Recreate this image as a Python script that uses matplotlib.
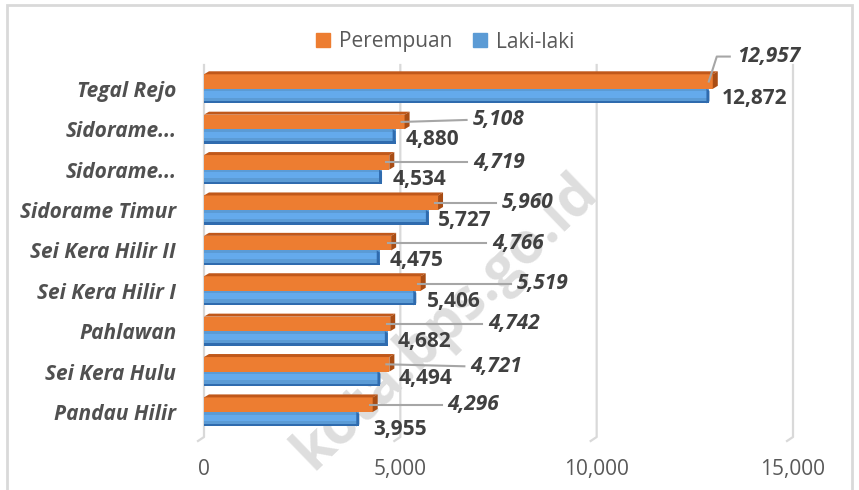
import numpy as np
import matplotlib.pyplot as plt
from matplotlib.patches import Polygon, Rectangle

plt.rcParams['font.family'] = ['Open Sans', 'DejaVu Sans']

# data (bottom to top)
kelurahan = ['Pandau Hilir', 'Sei Kera Hulu', 'Pahlawan', 'Sei Kera Hilir I',
             'Sei Kera Hilir II', 'Sidorame Timur', 'Sidorame...', 'Sidorame...',
             'Tegal Rejo']
perempuan = [4296, 4721, 4742, 5519, 4766, 5960, 4719, 5108, 12957]
laki_laki = [3955, 4494, 4682, 5406, 4475, 5727, 4534, 4880, 12872]
x_ticks = [0, 5000, 10000, 15000]

# label placement in pixels (layout only)
off_p = [75, 81, 98, 96, 101, 64, 84, 68, 24]
dy_p = [0, -2, 0, 0, 0, 0, 0, 2, 25]
off_l = [14, 18, 10, 11, 10, 9, 11, 10, 12]
dy_l = [-10, 0, -3, -3, -3, -3, -3, -3, -2]

orange = '#ED7D31'
orange_dark = '#C0581A'
blue = '#5B9BD5'
txt = '#404040'
grid_c = '#D9D9D9'

fig = plt.figure(figsize=(8.59, 4.90), dpi=100)
ax = fig.add_axes([204 / 859, 1 - 437 / 490, 589 / 859, 372 / 490])
ax.set_xlim(0, 15000)
ax.set_ylim(-0.62, 8.59)
xpp = 15000 / 589          # data units per pixel
ypp = (8.59 + 0.62) / 372

y = np.arange(len(kelurahan))
h = 0.36

# gridlines with small 3D floor
for t in x_ticks:
    ax.plot([t, t, t - 6 * xpp], [8.59, -0.62, -0.62 - 4 * ypp], color=grid_c,
            lw=1.6, zorder=1, clip_on=False)

# watermark
ax.text(0.41, 0.31, 'kota.bps.go.id', transform=ax.transAxes, rotation=44,
        fontsize=41, fontweight='bold', color='#DEDEDE', ha='center',
        va='center', zorder=1.5, clip_on=False)

# blue bars
ax.barh(y - h / 2, laki_laki, height=h, color=blue, zorder=3)
ax.barh(y - h / 2 + 0.04, laki_laki, height=0.15, color='#64AAEC', zorder=3.1)
ax.barh(y - h + 0.03, laki_laki, height=0.06, color='#2F6BAE', zorder=3.1)
for yi, v in zip(y, laki_laki):
    ax.add_patch(Polygon([(v - 3 * xpp, yi - h), (v, yi - h + 2 * ypp),
                          (v, yi - 2 * ypp), (v - 3 * xpp, yi)],
                         closed=True, color='#2F6BAE', zorder=3.2, lw=0))

# orange bars with 3D top face and end cap
ax.barh(y + h / 2, perempuan, height=h, color=orange, zorder=4)
dx, dy = 5 * xpp, 3 * ypp
for yi, v in zip(y, perempuan):
    top = yi + h
    ax.add_patch(Polygon([(0, top), (dx, top + dy), (v + dx, top + dy), (v, top)],
                         closed=True, color=orange_dark, zorder=4.1, lw=0))
    ax.add_patch(Polygon([(v, yi), (v + dx, yi + dy), (v + dx, top + dy), (v, top)],
                         closed=True, color='#A94D14', zorder=4.1, lw=0))

# value labels
for i, (yi, v) in enumerate(zip(y, perempuan)):
    yc = yi + h / 2
    tx = v + off_p[i] * xpp
    ty = yc + dy_p[i] * ypp
    if dy_p[i] > 10:
        ax.plot([v - 4 * xpp, v + 4 * xpp, tx - 7 * xpp], [yc, ty, ty],
                color='#A6A6A6', lw=1.5, zorder=5, clip_on=False)
    else:
        ax.plot([v - 3 * xpp, tx - 6 * xpp], [yc, ty], color='#A6A6A6',
                lw=1.5, zorder=5, clip_on=False)
    ax.text(tx, ty, f'{v:,}', fontsize=15, fontweight='bold', style='italic',
            color=txt, ha='left', va='center', zorder=6, clip_on=False)

for i, (yi, v) in enumerate(zip(y, laki_laki)):
    ax.text(v + off_l[i] * xpp, yi - h / 2 + dy_l[i] * ypp, f'{v:,}', fontsize=15,
            fontweight='bold', color=txt, ha='left', va='center', zorder=6,
            clip_on=False)

# axes styling
for s in ax.spines.values():
    s.set_visible(False)
ax.set_xticks(x_ticks)
ax.set_xticklabels([f'{t:,}' for t in x_ticks])
ax.set_yticks(y)
ax.set_yticklabels(kelurahan)
ax.tick_params(axis='x', length=0, pad=16, labelsize=15, labelcolor='#595959')
ax.tick_params(axis='y', length=0, pad=20, labelsize=15, labelcolor='#505050')
for lab in ax.get_yticklabels():
    lab.set_fontweight('bold')
    lab.set_fontstyle('italic')

# legend
handles = [Rectangle((0, 0), 1, 1, color=orange), Rectangle((0, 0), 1, 1, color=blue)]
fig.legend(handles, ['Perempuan', 'Laki-laki'], loc='center',
           bbox_to_anchor=(445 / 859, 1 - 42 / 490), ncol=2, frameon=False,
           fontsize=15, handlelength=0.7, handleheight=0.7, handletextpad=0.4,
           columnspacing=1.0, labelcolor='#595959')

# outer frame
fig.add_artist(Rectangle((7 / 859, -0.1), 845 / 859, 1.09, transform=fig.transFigure,
                         fill=False, edgecolor='#D9D9D9', lw=2))

fig.savefig('out.png', dpi=100)
